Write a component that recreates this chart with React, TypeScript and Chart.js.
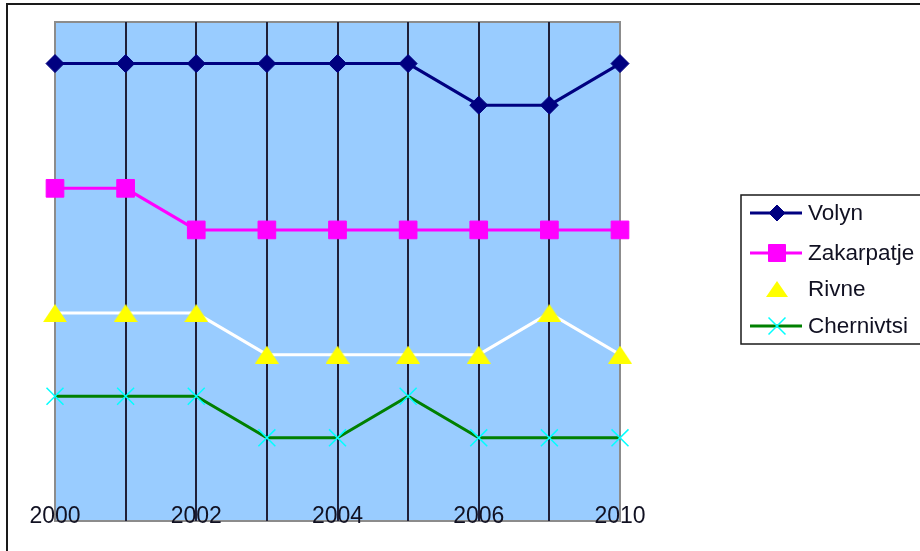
import React, { useEffect, useRef } from "react";
import { Chart, registerables } from "chart.js";
import { drawPoint } from "chart.js/helpers";

Chart.register(...registerables);

// Regional rank by year (1 = best), 2000–2010
const categories = ["2000", "2001", "2002", "2003", "2004", "2005", "2006", "2008", "2010"];
const labelEvery = 2;
const volyn = [1, 1, 1, 1, 1, 1, 2, 2, 1];
const zakarpatje = [4, 4, 5, 5, 5, 5, 5, 5, 5];
const rivne = [7, 7, 7, 8, 8, 8, 8, 7, 8];
const chernivtsi = [9, 9, 9, 10, 10, 9, 10, 10, 10];
const rankMin = 0;
const rankMax = 12;

const FONT = "'Liberation Sans', Arial, sans-serif";

// Flat yellow triangle marker, centred on its point
function makeTriangle(w: number, h: number, color: string): HTMLCanvasElement {
  const c = document.createElement("canvas");
  c.width = w;
  c.height = h;
  const g = c.getContext("2d")!;
  g.fillStyle = color;
  g.beginPath();
  g.moveTo(w / 2, 0);
  g.lineTo(w, h);
  g.lineTo(0, h);
  g.closePath();
  g.fill();
  return c;
}

type LegendItem = {
  label: string;
  line: string | null;
  pointStyle: any;
  radius: number;
  fill: string;
  stroke: string;
  strokeWidth: number;
};

export default function App() {
  const canvasRef = useRef<HTMLCanvasElement | null>(null);

  useEffect(() => {
    if (!canvasRef.current) return;
    const triangle = makeTriangle(24, 18, "#FFFF00");
    const legendTriangle = makeTriangle(22, 16, "#FFFF00");

    const legendItems: LegendItem[] = [
      { label: "Volyn", line: "#000080", pointStyle: "rectRot", radius: 8, fill: "#000080", stroke: "#000080", strokeWidth: 1 },
      { label: "Zakarpatje", line: "#FF00FF", pointStyle: "rect", radius: 12, fill: "#FF00FF", stroke: "#FF00FF", strokeWidth: 1 },
      { label: "Rivne", line: null, pointStyle: legendTriangle, radius: 10, fill: "#FFFF00", stroke: "#FFFF00", strokeWidth: 1 },
      { label: "Chernivtsi", line: "#008000", pointStyle: "crossRot", radius: 12, fill: "#00FFFF", stroke: "#00FFFF", strokeWidth: 1.5 },
    ];

    const framePlugin = {
      id: "frame",
      beforeDraw(chart: any) {
        const { ctx, chartArea, width, height } = chart;
        ctx.save();
        ctx.fillStyle = "#FFFFFF";
        ctx.fillRect(0, 0, width, height);
        // outer frame (top and left edges)
        ctx.strokeStyle = "#1a1a1a";
        ctx.lineWidth = 2;
        ctx.beginPath();
        ctx.moveTo(7, height);
        ctx.lineTo(7, 4);
        ctx.lineTo(width, 4);
        ctx.stroke();
        // plot area
        ctx.fillStyle = "#99CCFF";
        ctx.fillRect(chartArea.left, chartArea.top, chartArea.right - chartArea.left, chartArea.bottom - chartArea.top);
        ctx.strokeStyle = "#8c8c8c";
        ctx.lineWidth = 2;
        ctx.strokeRect(chartArea.left, chartArea.top, chartArea.right - chartArea.left, chartArea.bottom - chartArea.top);
        ctx.restore();
      },
      afterDraw(chart: any) {
        const { ctx, chartArea } = chart;
        const xScale = chart.scales.x;
        ctx.save();

        // year labels inside the plot, along the bottom
        ctx.font = `23px ${FONT}`;
        ctx.fillStyle = "#111122";
        ctx.textAlign = "center";
        ctx.textBaseline = "alphabetic";
        categories.forEach((c, i) => {
          if (i % labelEvery !== 0) return;
          ctx.fillText(c, xScale.getPixelForValue(i), chartArea.bottom + 2);
        });

        // legend
        ctx.strokeStyle = "#1a1a1a";
        ctx.lineWidth = 1.5;
        ctx.strokeRect(741, 195, 182, 149);
        const rowY = [213, 253, 289, 326];
        ctx.textAlign = "left";
        ctx.textBaseline = "middle";
        legendItems.forEach((it, i) => {
          const y = rowY[i];
          if (it.line) {
            ctx.strokeStyle = it.line;
            ctx.lineWidth = 3;
            ctx.beginPath();
            ctx.moveTo(750, y);
            ctx.lineTo(802, y);
            ctx.stroke();
          }
          ctx.fillStyle = it.fill;
          ctx.strokeStyle = it.stroke;
          ctx.lineWidth = it.strokeWidth;
          drawPoint(ctx, { pointStyle: it.pointStyle, radius: it.radius, rotation: 0, borderWidth: it.strokeWidth }, 777, y);
          ctx.fillStyle = "#111122";
          ctx.font = `22.5px ${FONT}`;
          ctx.fillText(it.label, 808, y + 1);
        });
        ctx.restore();
      },
    };

    const chart = new Chart(canvasRef.current, {
      type: "line",
      data: {
        labels: categories,
        datasets: [
          {
            label: "Volyn",
            data: volyn,
            borderColor: "#000080",
            borderWidth: 3,
            pointStyle: "rectRot",
            pointRadius: 9,
            pointBackgroundColor: "#000080",
            pointBorderColor: "#000080",
            pointBorderWidth: 1,
            clip: false,
          },
          {
            label: "Zakarpatje",
            data: zakarpatje,
            borderColor: "#FF00FF",
            borderWidth: 3,
            pointStyle: "rect",
            pointRadius: 12.5,
            pointBackgroundColor: "#FF00FF",
            pointBorderColor: "#FF00FF",
            pointBorderWidth: 1,
            clip: false,
          },
          {
            label: "Rivne",
            data: rivne,
            borderColor: "#FFFFFF",
            borderWidth: 3,
            pointStyle: triangle,
            pointRadius: 12,
            clip: false,
          },
          {
            label: "Chernivtsi",
            data: chernivtsi,
            borderColor: "#008000",
            borderWidth: 3,
            pointStyle: "crossRot",
            pointRadius: 12,
            pointBackgroundColor: "#00FFFF",
            pointBorderColor: "#00FFFF",
            pointBorderWidth: 1.5,
            clip: false,
          },
        ],
      },
      options: {
        animation: false,
        responsive: false,
        maintainAspectRatio: false,
        layout: { padding: { left: 55, top: 22, right: 300, bottom: 30 } },
        plugins: { legend: { display: false }, tooltip: { enabled: false } },
        scales: {
          x: {
            display: true,
            offset: false,
            border: { display: false },
            ticks: { display: false },
            grid: {
              drawTicks: false,
              lineWidth: 2,
              color: (ctx: any) =>
                ctx.index === 0 || ctx.index === categories.length - 1 ? "rgba(0,0,0,0)" : "#1f1f38",
            },
          },
          y: {
            display: false,
            reverse: true,
            min: rankMin,
            max: rankMax,
          },
        },
      },
      plugins: [framePlugin],
    });
    return () => chart.destroy();
  }, []);

  return (
    <div style={{ position: "fixed", left: 0, top: 0, width: 920, height: 551 }}>
      <canvas ref={canvasRef} width={920} height={551} style={{ display: "block", width: 920, height: 551 }} />
    </div>
  );
}
